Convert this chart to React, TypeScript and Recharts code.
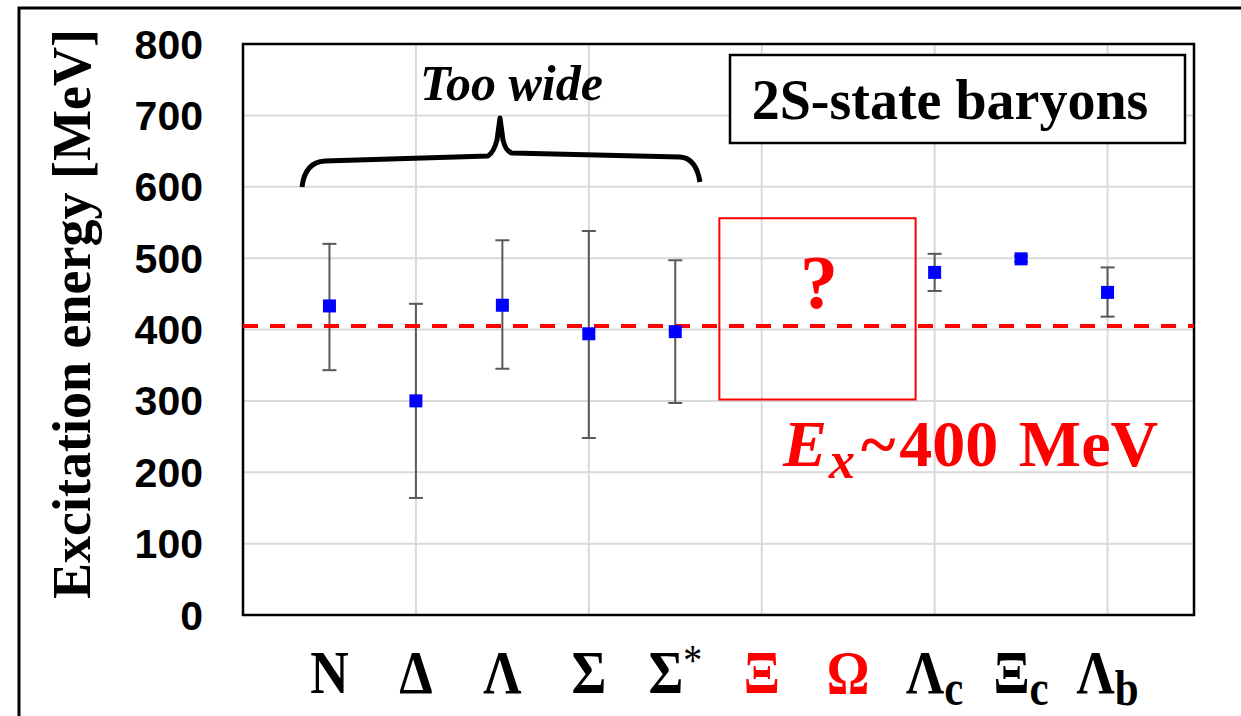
import {
  ScatterChart,
  Scatter,
  XAxis,
  YAxis,
  CartesianGrid,
  ReferenceLine,
  ReferenceArea,
  ErrorBar,
} from "recharts";

// baryon labels (main glyph + subscript / superscript)
const labelMain = ["N", "Δ", "Λ", "Σ", "Σ", "Ξ", "Ω", "Λ", "Ξ", "Λ"];
const labelSub = ["", "", "", "", "", "", "", "c", "c", "b"];
const labelSup = ["", "", "", "", "*", "", "", "", "", ""];
const unknownIdx = [5, 6]; // Ξ, Ω : not yet measured

// excitation energy [MeV] and asymmetric errors
const energy = [433, 300, 434, 394, 397, null, null, 480, 499, 452];
const errLow = [90, 136, 89, 146, 100, null, null, 26, 4, 34];
const errHigh = [87, 136, 91, 144, 100, null, null, 26, 4, 35];

const yTicks = [0, 100, 200, 300, 400, 500, 600, 700, 800];
const xTicks = [1, 2, 3, 4, 5, 6, 7, 8, 9, 10];
const gridX = [2, 4, 6, 8, 10];

const typicalEx = 405;
const qBoxX = [5.51, 7.78];
const qBoxY = [302, 556];

const rows = labelMain
  .map((_, i) => ({ x: i + 1, y: energy[i], err: [errLow[i], errHigh[i]] }))
  .filter((r) => r.y != null);

const SERIF = "'Liberation Serif', 'Times New Roman', serif";
const SANS = "'Liberation Sans', Arial, sans-serif";

function XTick({ x, y, payload }: any) {
  const i = payload.value - 1;
  const red = unknownIdx.includes(i);
  return (
    <g transform={`translate(${x},${y + 78}) scale(0.86,1)`}>
      <text
        x={0}
        y={0}
        textAnchor="middle"
        fontFamily={SERIF}
        fontWeight="bold"
        fontSize={62}
        fill={red ? "#ff0000" : "#000"}
      >
        {labelMain[i]}
        {labelSub[i] && (
          <tspan fontSize={50} dy={12}>
            {labelSub[i]}
          </tspan>
        )}
        {labelSup[i] && (
          <tspan fontSize={44} fontWeight="normal" dy={-18}>
            {labelSup[i]}
          </tspan>
        )}
      </text>
    </g>
  );
}

function Square(p: any) {
  return <rect x={p.cx - 6.5} y={p.cy - 6.5} width={13} height={13} fill="#0000ff" />;
}

export default function App() {
  return (
    <div style={{ position: "absolute", left: 0, top: 0, width: 1241, height: 716, background: "#fff", overflow: "hidden" }}>
      <ScatterChart width={1241} height={716} margin={{ top: 44, right: 47, bottom: 21, left: 143 }}>
        <CartesianGrid stroke="#d9d9d9" strokeWidth={2} verticalValues={gridX} />
        <XAxis
          type="number"
          dataKey="x"
          domain={[0, 11]}
          ticks={xTicks}
          interval={0}
          height={80}
          axisLine={false}
          tickLine={false}
          tickSize={0}
          tickMargin={0}
          tick={<XTick />}
        />
        <YAxis
          type="number"
          dataKey="y"
          domain={[0, 800]}
          ticks={yTicks}
          interval={0}
          width={100}
          axisLine={false}
          tickLine={false}
          tickSize={0}
          tickMargin={40}
          tick={{ fontFamily: SANS, fontWeight: "bold", fontSize: 41, fill: "#000" }}
        />
        <ReferenceArea
          x1={qBoxX[0]}
          x2={qBoxX[1]}
          y1={qBoxY[0]}
          y2={qBoxY[1]}
          fill="none"
          fillOpacity={0}
          stroke="#ff0000"
          strokeWidth={2}
        />
        <Scatter data={rows} shape={<Square />} isAnimationActive={false}>
          <ErrorBar dataKey="err" direction="y" width={7} stroke="#595959" strokeWidth={2} isAnimationActive={false} />
        </Scatter>
        <ReferenceLine y={typicalEx} stroke="#ff0000" strokeWidth={4} strokeDasharray="15 12" />
        <ReferenceArea x1={0} x2={11} y1={0} y2={800} fill="none" fillOpacity={0} stroke="#000" strokeWidth={2.5} />
      </ScatterChart>

      <svg width={1241} height={716} style={{ position: "absolute", left: 0, top: 0, pointerEvents: "none" }}>
        {/* slide frame */}
        <rect x={19} y={8} width={1260} height={740} fill="none" stroke="#000" strokeWidth={3} />

        <text
          x={90}
          y={314}
          transform="rotate(-90 90 314)"
          textAnchor="middle"
          fontFamily={SERIF}
          fontWeight="bold"
          fontSize={54}
          fill="#000"
        >
          Excitation energy [MeV]
        </text>

        <text x={420} y={100} fontFamily={SERIF} fontWeight="bold" fontStyle="italic" fontSize={50} fill="#000">
          Too wide
        </text>
        <path
          d="M302,187 Q305,162 325,161 L488,156 Q494,152 497,140 L500,118 L503,140 Q506,152 512,153 L680,157 Q696,158 700,182"
          fill="none"
          stroke="#000"
          strokeWidth={5}
          strokeLinejoin="round"
        />

        <rect x={730} y={55} width={455} height={88} fill="#fff" stroke="#000" strokeWidth={2.5} />
        <text x={950} y={119} textAnchor="middle" fontFamily={SERIF} fontWeight="bold" fontSize={56} fill="#000">
          2S-state baryons
        </text>

        <text x={819} y={308} textAnchor="middle" fontFamily={SERIF} fontWeight="bold" fontSize={76} fill="#ff0000">
          ?
        </text>

        <text x={783} y={466} fontFamily={SERIF} fontWeight="bold" fontSize={66} fill="#ff0000">
          <tspan fontStyle="italic">E</tspan>
          <tspan fontStyle="italic" fontSize={52} dy={12} dx={2}>
            x
          </tspan>
          <tspan dy={-12} dx={6}>
            ~
          </tspan>
          <tspan dx={4}>400</tspan>
          <tspan dx={4}> MeV</tspan>
        </text>
      </svg>
    </div>
  );
}
